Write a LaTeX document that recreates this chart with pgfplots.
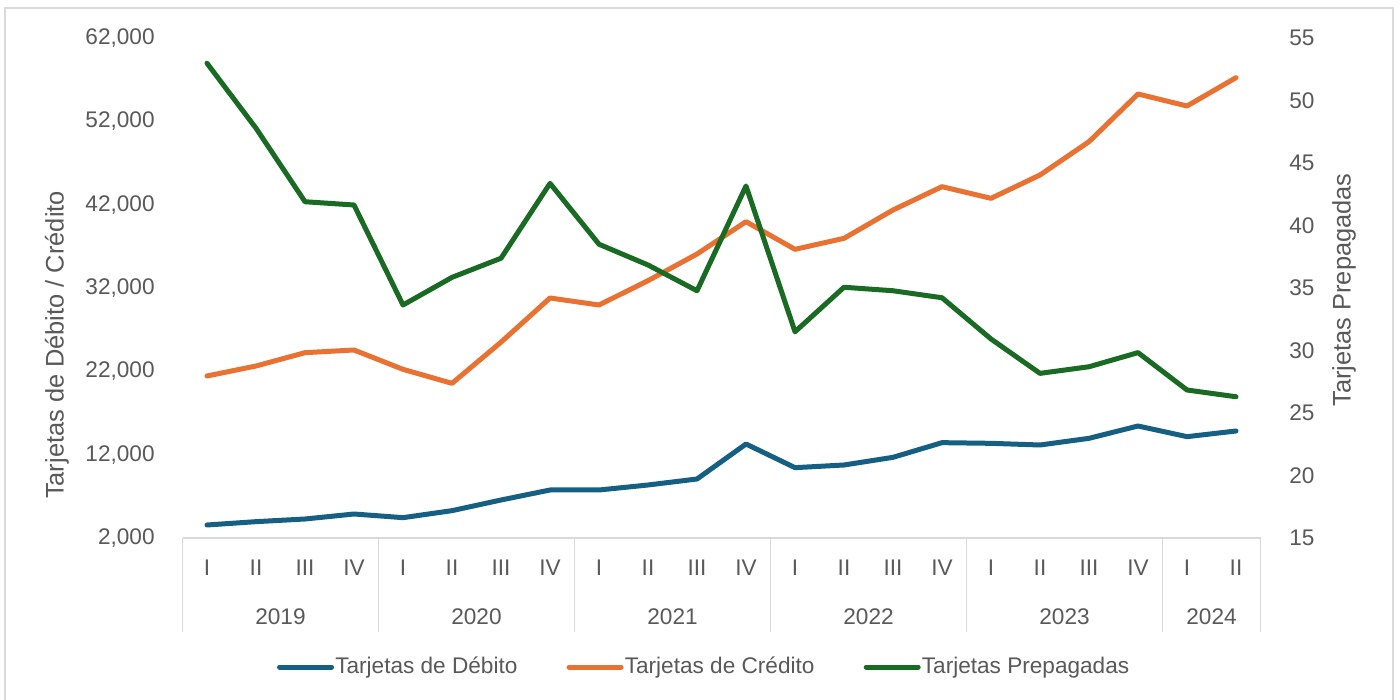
\documentclass[border=0pt]{standalone}
\usepackage{fontspec}
\setmainfont{Liberation Sans}
\usepackage{pgfplots}
\pgfplotsset{compat=1.18}
\definecolor{cblue}{HTML}{156082}
\definecolor{corange}{HTML}{E97132}
\definecolor{cgreen}{HTML}{196B24}
\definecolor{tgray}{HTML}{595959}
\definecolor{lgray}{HTML}{D9D9D9}
\newcommand{\tickfont}{\fontsize{11.3}{13.5}\selectfont}
\newcommand{\titlefont}{\fontsize{12.7}{15}\selectfont}
\begin{document}
\begin{tikzpicture}
\path[use as bounding box] (0,0) rectangle (700pt,350pt);
\fill[white] (0,0) rectangle (700pt,350pt);
\draw[lgray, line width=0.7pt] (2.5pt,-5pt) rectangle (696.5pt,346pt);
\pgfplotsset{
  common/.style={
    scale only axis, width=539pt, height=250pt,
    at={(91.25pt,81pt)}, anchor=south west,
    xmin=-0.5, xmax=21.5,
    clip=false,
    tick label style={font=\tickfont, text=tgray},
    /pgf/number format/assume math mode=true,
    major tick length=0pt,
    label style={font=\titlefont, text=tgray},
  }
}
\begin{axis}[common,
  axis x line*=bottom, axis y line*=left,
  x axis line style={lgray, line width=0.7pt, -},
  y axis line style={draw=none},
  ymin=2000, ymax=62000,
  ytick={2000,12000,...,62000},
  scaled y ticks=false,
  /pgf/number format/fixed, /pgf/number format/precision=0, /pgf/number format/1000 sep={,},
  yticklabel style={anchor=east, inner sep=0pt, xshift=-13.75pt},
  xtick={0,...,21},
  xticklabels={I,II,III,IV,I,II,III,IV,I,II,III,IV,I,II,III,IV,I,II,III,IV,I,II},
  xticklabel style={anchor=center, inner sep=0pt, yshift=-15pt},
  extra x ticks={-0.5,3.5,7.5,11.5,15.5,19.5,21.5},
  extra x tick labels={},
  extra x tick style={major tick length=47pt, tick align=outside, tick style={lgray, line width=0.7pt}},
  ylabel={Tarjetas de Débito / Crédito},
  ylabel style={at={(axis description cs:-0.1164,0.386)}, anchor=center},
]
\addplot[cblue, line width=2.5pt, line join=round, line cap=round] coordinates {
(0,3560) (1,3960) (2,4280) (3,4880) (4,4440) (5,5280) (6,6560) (7,7760)
(8,7760) (9,8360) (10,9080) (11,13280) (12,10440) (13,10760) (14,11680) (15,13440)
(16,13360) (17,13160) (18,13960) (19,15440) (20,14160) (21,14840)};
\addplot[corange, line width=2.5pt, line join=round, line cap=round] coordinates {
(0,21440) (1,22640) (2,24240) (3,24560) (4,22240) (5,20560) (6,25500) (7,30800)
(8,29960) (9,32880) (10,36080) (11,39960) (12,36640) (13,37960) (14,41360) (15,44160)
(16,42760) (17,45560) (18,49560) (19,55280) (20,53840) (21,57240)};
\node[text=tgray, font=\tickfont, inner sep=0pt] at (axis cs:1.5,2000) [yshift=-39.5pt] {2019};
\node[text=tgray, font=\tickfont, inner sep=0pt] at (axis cs:5.5,2000) [yshift=-39.5pt] {2020};
\node[text=tgray, font=\tickfont, inner sep=0pt] at (axis cs:9.5,2000) [yshift=-39.5pt] {2021};
\node[text=tgray, font=\tickfont, inner sep=0pt] at (axis cs:13.5,2000) [yshift=-39.5pt] {2022};
\node[text=tgray, font=\tickfont, inner sep=0pt] at (axis cs:17.5,2000) [yshift=-39.5pt] {2023};
\node[text=tgray, font=\tickfont, inner sep=0pt] at (axis cs:20.5,2000) [yshift=-39.5pt] {2024};
\end{axis}
\begin{axis}[common,
  hide x axis,
  axis y line*=right,
  y axis line style={draw=none},
  ymin=15, ymax=55,
  ytick={15,20,...,55},
  yticklabel style={anchor=west, inner sep=0pt, xshift=14.25pt},
  ylabel={Tarjetas Prepagadas},
  ylabel style={at={(axis description cs:1.0775,0.496)}, anchor=center},
  legend columns=3,
  legend style={at={(axis description cs:0.4835,-0.258)}, anchor=center, draw=none, fill=none,
    font=\tickfont, text=tgray, nodes={inner sep=0.6pt},
    /tikz/every even column/.append style={column sep=24pt}},
  legend image code/.code={\draw[#1, line cap=round] (0pt,0pt) -- (26pt,0pt);},
]
\addlegendimage{cblue, line width=2.5pt}
\addlegendentry{Tarjetas de Débito}
\addlegendimage{corange, line width=2.5pt}
\addlegendentry{Tarjetas de Crédito}
\addplot[cgreen, line width=2.5pt, line join=round, line cap=round] coordinates {
(0,52.98) (1,47.78) (2,41.9) (3,41.64) (4,33.64) (5,35.85) (6,37.38) (7,43.37)
(8,38.5) (9,36.84) (10,34.78) (11,43.16) (12,31.5) (13,35.06) (14,34.78) (15,34.22)
(16,30.92) (17,28.17) (18,28.7) (19,29.83) (20,26.84) (21,26.3)};
\addlegendentry{Tarjetas Prepagadas}
\end{axis}
\end{tikzpicture}
\end{document}
